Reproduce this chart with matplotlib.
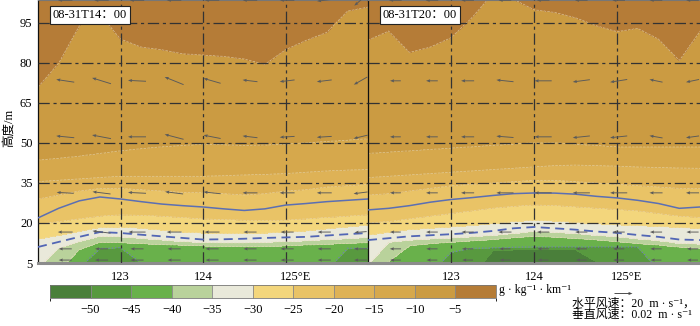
import numpy as np
import matplotlib
matplotlib.use('Agg')
from matplotlib import pyplot as plt
from matplotlib.colors import ListedColormap, BoundaryNorm
from matplotlib.transforms import ScaledTranslation

plt.rcParams['font.family'] = ['Liberation Serif', 'Noto Sans CJK SC', 'DejaVu Sans']
plt.rcParams['axes.unicode_minus'] = True

lon_nodes = [122.0, 122.25, 122.5, 122.75, 123.0, 123.25, 123.5, 123.75, 124.0,
             124.25, 124.5, 124.75, 125.0, 125.25, 125.5, 125.75, 126.0]
contour_levels = [-50, -45, -40, -35, -30, -25, -20, -15, -10, -5]
fill_levels = [-55, -50, -45, -40, -35, -30, -25, -20, -15, -10, -5, 0]
fill_colors = ['#4a7f3a', '#58993f', '#69b14b', '#b9d29b', '#e9e9da', '#f3d67c',
               '#e9c366', '#deb256', '#d6a84c', '#cb9b42', '#b57c37']

# 14:00 panel, height (m) of each contour
left_m50 = [-1, -1, -1, -1, -1, -1, -1, -1, -1, -1, -1, -1, -1, -1, -1, -1, -1]
left_m45 = [0, 1, 3, 10.5, 10.8, 5, 1.5, 1, 1, 1, 1, 1, 1, 1, 2, 10.5, 10.5]
left_m40 = [1, 2, 10, 12.8, 12.6, 12.3, 12, 11.7, 11.5, 11.3, 11.2, 11.3, 11.5, 11.8, 12.1, 12.4, 12.6]
left_m35 = [3, 10.5, 13, 15, 14.8, 14.2, 13.6, 13, 12.6, 12.5, 12.5, 12.7, 13, 13.3, 13.7, 14.1, 14.5]
left_m30 = [14, 15.3, 16.8, 18.3, 18.5, 18, 17.3, 16.6, 16.2, 16, 16, 16.2, 16.5, 17, 17.8, 18.5, 19.2]
left_m25 = [19.5, 20.5, 21.5, 22.5, 23, 22.8, 22.5, 22, 21.5, 21.2, 21, 21, 21, 21.5, 22, 22.5, 23]
left_m20 = [29, 30.5, 32, 33, 33, 32.5, 32, 31.5, 31.5, 31, 30.5, 31, 32, 32.5, 33.5, 34, 34.5]
left_m15 = [35.5, 36, 36.5, 37, 37.5, 37.5, 37.5, 37.5, 37.5, 37.7, 38, 38.2, 38.5, 39, 39.5, 39.8, 40]
left_m10 = [43.5, 44.2, 45, 46, 47, 47.8, 48.5, 49, 49.5, 49.3, 49, 49.2, 49.5, 50, 50.5, 51, 51.5]
left_m5 = [71, 80, 94, 98.5, 89, 86, 85, 83.5, 83, 82.5, 81.5, 79.5, 85, 88.5, 91.5, 99.5, 101]
left_solid = [21.9, 25.5, 28.3, 29.75, 29, 28, 27.1, 26.5, 26, 25.3, 24.7, 25.3, 26.7, 27.3, 28, 28.5, 29]
left_dashed = [11, 12.9, 14.8, 16.6, 16.25, 15.6, 15, 14.4, 13.8, 13.9, 14.1, 14.4, 14.6, 14.8, 15.3, 15.8, 16.25]

# 20:00 panel
right_m50 = [-1, -1, -1, -1, -1, 0, 9.5, 10, 10, 10, 10, 5.5, 0, -1, -1, -1, -1]
right_m45 = [0, 1, 1, 1, 9, 10.6, 10.6, 10.8, 11, 11, 11, 11, 11, 11, 2.5, 1, 1]
right_m40 = [2, 5.5, 11.5, 12.3, 12.8, 13.3, 13.8, 14.5, 15, 14.7, 14.2, 13.7, 13, 12.3, 11.8, 11, 10.5]
right_m35 = [4, 12.8, 13.5, 14, 14.3, 14.8, 15.3, 16, 16.8, 16.5, 16, 15.3, 14.8, 14, 13.3, 12.3, 12]
right_m30 = [15.5, 16.5, 17.5, 18, 18.5, 19, 19.7, 20.5, 21, 20.7, 20.2, 19.7, 19.3, 19, 18.7, 18.3, 18]
right_m25 = [20, 20.5, 21.5, 22.5, 23.5, 24.5, 25.5, 26.2, 26.7, 26.5, 26, 25.5, 25, 24.5, 23.5, 22.5, 22]
right_m20 = [30.5, 31, 32, 33, 34, 34.5, 35, 35.5, 36, 36, 35.5, 35, 34.5, 34, 33.5, 33, 33]
right_m15 = [37, 37.5, 38, 38.5, 39, 39.5, 40, 40.5, 41, 41.5, 41.7, 41.5, 41.3, 41, 40.8, 40.6, 40.5]
right_m10 = [46, 46.5, 47, 47.5, 48, 48.5, 49, 49.5, 50, 50, 49.5, 49, 48.5, 48.5, 48.5, 48.5, 48.5]
right_m5 = [88.6, 92, 84, 86, 89.5, 97, 106, 104, 100, 99, 97, 94, 91.8, 93, 89, 81, 92]
right_solid = [24.9, 25.5, 26.5, 27.8, 28.8, 29.5, 30.3, 31, 31.25, 31.2, 30.8, 30, 29.4, 28.5, 27.3, 25.5, 26]
right_dashed = [13.6, 14.3, 15, 15.4, 15.8, 16.3, 17, 18, 18.5, 18, 17.5, 16.8, 16.3, 15.5, 14.8, 13.8, 13.6]

# wind vectors: u in m/s, w in m/s
wind_lon = [122.33, 122.77, 123.2, 123.65, 124.11, 124.57, 125.02, 125.47, 125.91]
wind_hgt = [6.1, 10.3, 16.6, 31.3, 52.3, 73.3, 103.5]
left_u = [
    [-14.5, -14.5, -14.5, -14.5, -14.5, -14.5, -14.5, -14.5, -14.5],
    [-14.5, -14.5, -14.5, -14.5, -14.5, -14.5, -14.5, -14.5, -14.5],
    [-16.5, -20, -19, -16.5, -16.5, -14.5, -14.5, -14.5, -13.5],
    [-19, -20, -20, -20, -19, -16.5, -16.5, -16.5, -15.5],
    [-20, -21, -20, -21, -19, -16.5, -16.5, -16.5, -15.5],
    [-20, -21, -20, -21, -19, -16.5, -16.5, -16.5, -15],
    [-16, -16, -16, -16, -16, -16, -16, -16, -14],
]
left_w = [
    [0, 0, 0, 0, 0, 0, 0, 0, 0],
    [0, 0, 0, 0, 0, 0, 0, 0, 0],
    [0, 0.0025, 0, 0, 0, 0, 0, 0, -0.001],
    [0.001, 0.0025, 0.001, 0.0025, 0.002, 0, 0, 0, -0.002],
    [0.002, 0.004, 0, 0.0055, 0.0037, 0.002, -0.001, -0.001, -0.0037],
    [0.003, 0.0065, 0.001, 0.0085, 0.0055, 0.002, -0.002, -0.002, -0.0085],
    [0, 0, 0, 0, 0, 0, 0, -0.002, -0.012],
]
right_u = [
    [-12, -12, -12, -12, -12, -12, -12, -12, -12],
    [-12.5, -12.5, -12.5, -12.5, -12.5, -12.5, -12.5, -12.5, -12.5],
    [-12, -13, -13.5, -14.5, -13.5, -13.5, -13.5, -13.5, -13.5],
    [-12, -13, -14.5, -19, -19, -19, -19, -14.5, -14.5],
    [-12, -13, -14.5, -19, -19, -19, -19, -14.5, -14.5],
    [-12, -13, -14.5, -19, -19, -19, -19, -14.5, -14.5],
    [-14, -14, -14, -14, -14, -14, -14, -14, -14],
]
right_w = [
    [0, 0, 0, 0, 0, 0, 0, 0, 0],
    [0, 0, 0, 0, 0, 0, 0, 0, 0],
    [0, 0, 0, 0, 0, 0, 0, 0, 0],
    [0, 0, 0, 0, 0, 0, 0, 0, 0],
    [0, 0, 0, 0.0015, 0, -0.002, -0.002, 0.0025, -0.002],
    [0, 0, 0, 0.002, 0, -0.0025, -0.003, 0.003, -0.003],
    [0, 0, 0, 0, 0, 0, 0, 0, 0],
]

panel_titles = ['08-31T14：00', '08-31T20：00']
y_ticks = [5, 20, 35, 50, 65, 80, 95]
x_ticks = [123, 124, 125]
x_ticklabels = ['123', '124', '125°E']
cbar_ticks = [-50, -45, -40, -35, -30, -25, -20, -15, -10, -5]


def build_field(heights, lon, hgt):
    # turn contour heights into a gridded field, column by column
    H = np.array([np.interp(lon, lon_nodes, h) for h in heights])
    lev = np.array(contour_levels, dtype=float)
    field = np.empty((len(hgt), len(lon)))
    for j in range(len(lon)):
        hp = np.concatenate([[H[0, j] - 5], H[:, j], [H[-1, j] + 5]])
        vp = np.concatenate([[lev[0] - 2.5], lev, [lev[-1] + 2.5]])
        field[:, j] = np.interp(hgt, hp, vp)
    return field


fig = plt.figure(figsize=(7, 3.26), dpi=100)
ax1 = fig.add_axes([38 / 700, 63 / 326, 330 / 700, 263 / 326])
ax2 = fig.add_axes([368 / 700, 63 / 326, 332 / 700, 263 / 326])

cmap = ListedColormap(fill_colors)
norm = BoundaryNorm(fill_levels, cmap.N)
lon = np.linspace(122, 126, 321)
hgt = np.linspace(5, 105, 401)
grid_style = (0, (9, 3, 2.5, 3))

panels = [
    (ax1, [left_m50, left_m45, left_m40, left_m35, left_m30, left_m25, left_m20,
           left_m15, left_m10, left_m5], left_solid, left_dashed, left_u, left_w),
    (ax2, [right_m50, right_m45, right_m40, right_m35, right_m30, right_m25, right_m20,
           right_m15, right_m10, right_m5], right_solid, right_dashed, right_u, right_w),
]

for i, (ax, heights, solid, dashed, u, w) in enumerate(panels):
    field = build_field(heights, lon, hgt)
    cf = ax.contourf(lon, hgt, field, levels=fill_levels, cmap=cmap, norm=norm)
    ax.contour(lon, hgt, field, levels=[-40, -35, -30, -25, -20, -15, -10, -5],
               colors='#eadcb8', linewidths=0.5, alpha=0.7)
    ax.contour(lon, hgt, field, levels=[-45], colors='#6f7fb5',
               linewidths=0.9, linestyles=':')
    ax.plot(lon_nodes, solid, color='#5b6fb3', lw=1.1, zorder=4)
    ax.plot(lon_nodes, dashed, color='#5266b5', lw=1.3, ls=(0, (5, 3)), zorder=4)

    for yv in y_ticks[1:]:
        ax.axhline(yv, color='#333333', lw=0.9, ls=grid_style, zorder=3)
    for xv in x_ticks:
        ax.axvline(xv, color='#333333', lw=0.9, ls=grid_style, zorder=3)

    X, Y = np.meshgrid(wind_lon, wind_hgt)
    q = ax.quiver(X, Y, np.array(u), np.array(w) * 1000, pivot='middle', angles='uv',
                  scale_units='inches', scale=20 / 0.18, width=0.0028,
                  headwidth=3.5, headlength=4.5, headaxislength=4,
                  color='#5a5a5a', zorder=5)
    if i == 0:
        qref = q

    ax.set_xlim(122, 126)
    ax.set_ylim(5, 103.6)
    ax.set_yticks(y_ticks)
    ax.set_xticks(x_ticks)
    ax.set_xticklabels(x_ticklabels)
    ax.tick_params(length=0, labelsize=9, pad=6)
    ax.tick_params(axis='y', pad=4)
    lab = ax.get_xticklabels()[-1]
    lab.set_transform(lab.get_transform() + ScaledTranslation(7 / 72, 0, fig.dpi_scale_trans))
    if i == 1:
        ax.set_yticklabels([])

    ax.spines['bottom'].set_color('#8c8c8c')
    ax.spines['bottom'].set_linewidth(2.2)
    ax.spines['top'].set_color('#777777')
    ax.spines['left'].set_color('#111111')
    ax.spines['left'].set_linewidth(0.9)
    ax.spines['right'].set_visible(False)

    ax.text(0.045, 0.943, panel_titles[i], transform=ax.transAxes, fontsize=9,
            ha='left', va='center', zorder=6,
            bbox=dict(boxstyle='square,pad=0.25', fc='white', ec='#222222', lw=0.8))

fig.text(9 / 700, 1 - 128 / 326, '高度/m', rotation=90, fontsize=9,
         ha='center', va='center')

cax = fig.add_axes([50 / 700, 28 / 326, 446 / 700, 13 / 326])
cb = fig.colorbar(cf, cax=cax, orientation='horizontal', ticks=cbar_ticks,
                  drawedges=True)
cb.outline.set_edgecolor('#777777')
cb.outline.set_linewidth(0.6)
cb.dividers.set_color('#888888')
cb.dividers.set_linewidth(0.6)
cax.tick_params(length=0, labelsize=9, pad=4)
cax.set_xticklabels(['−%d' % abs(t) for t in cbar_ticks])

fig.text(499 / 700, 1 - 290 / 326, 'g · kg⁻¹ · km⁻¹', fontsize=8.5,
         ha='left', va='center')
ax1.quiverkey(qref, 632 / 700, 1 - 293 / 326, 20, '', coordinates='figure',
              labelpos='E', color='#444444')
fig.text(572 / 700, 1 - 304 / 326, '水平风速：20  m · s⁻¹，', fontsize=8.6,
         ha='left', va='center')
fig.text(572 / 700, 1 - 315 / 326, '垂直风速：0.02  m · s⁻¹', fontsize=8.6,
         ha='left', va='center')

fig.savefig('out.png', dpi=100)
